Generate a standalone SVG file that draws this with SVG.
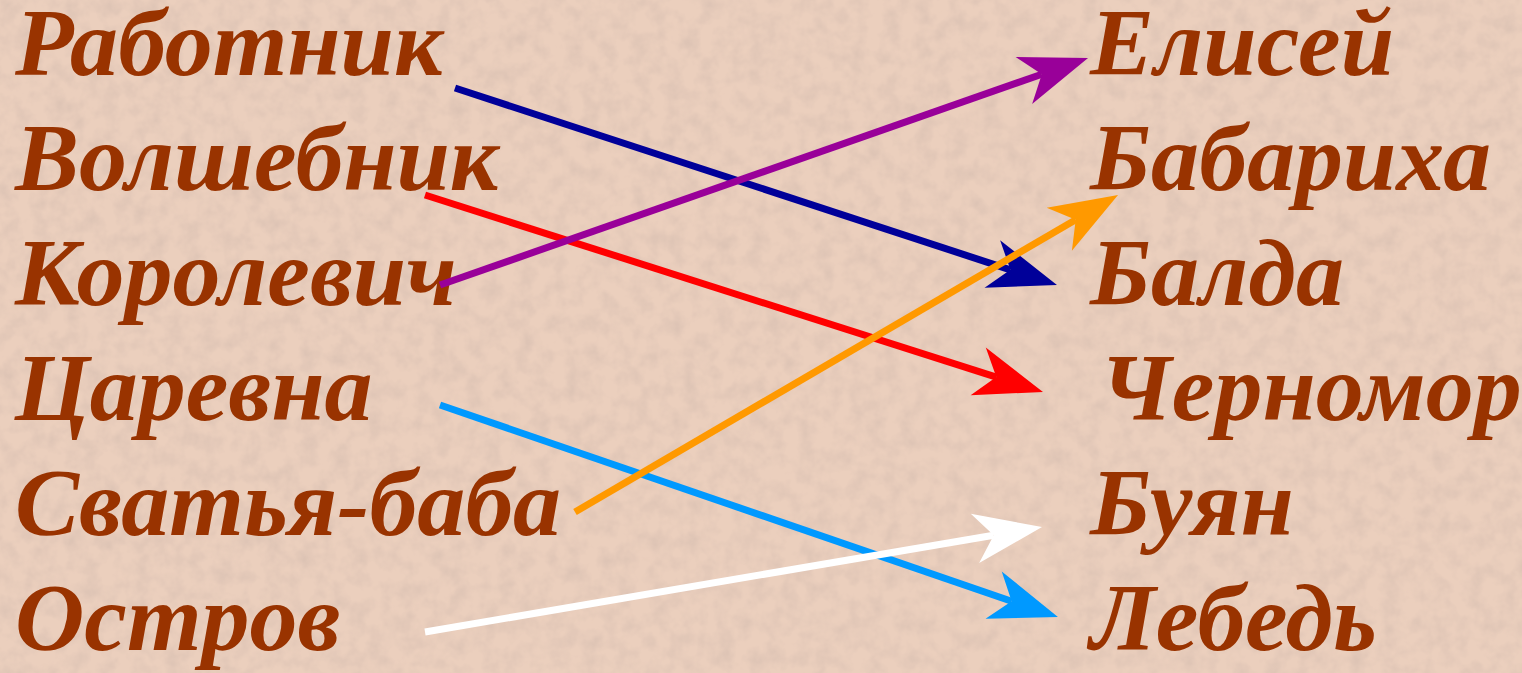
<svg xmlns="http://www.w3.org/2000/svg" width="1522" height="673" viewBox="0 0 1522 673">
<defs>
<style>
.t{font-family:"Liberation Serif","Times New Roman",serif;font-weight:bold;font-style:italic;font-size:96px;fill:#993300}
.c{stroke-width:7;fill:none;stroke-linecap:butt}
</style>
<filter id="tex" x="0" y="0" width="100%" height="100%">
<feTurbulence type="fractalNoise" baseFrequency="0.06" numOctaves="3" seed="4" result="n"/>
<feColorMatrix in="n" type="matrix" values="0 0 0 0 0.6  0 0 0 0 0.46  0 0 0 0 0.4  0 0 0 -1.6 1.0"/>
</filter>
<marker id="aNavy" markerUnits="userSpaceOnUse" orient="auto" markerWidth="72" markerHeight="60" refX="20" refY="30" viewBox="0 0 72 60"><path d="M69,30 L1,5 L20,30 L1,55 Z" fill="#000099"/></marker>
<marker id="aPurple" markerUnits="userSpaceOnUse" orient="auto" markerWidth="72" markerHeight="60" refX="20" refY="30" viewBox="0 0 72 60"><path d="M69,30 L1,5 L20,30 L1,55 Z" fill="#990099"/></marker>
<marker id="aRed" markerUnits="userSpaceOnUse" orient="auto" markerWidth="72" markerHeight="60" refX="20" refY="30" viewBox="0 0 72 60"><path d="M69,30 L1,5 L20,30 L1,55 Z" fill="#FF0000"/></marker>
<marker id="aOrange" markerUnits="userSpaceOnUse" orient="auto" markerWidth="72" markerHeight="60" refX="20" refY="30" viewBox="0 0 72 60"><path d="M69,30 L1,5 L20,30 L1,55 Z" fill="#FF9900"/></marker>
<marker id="aBlue" markerUnits="userSpaceOnUse" orient="auto" markerWidth="72" markerHeight="60" refX="20" refY="30" viewBox="0 0 72 60"><path d="M69,30 L1,5 L20,30 L1,55 Z" fill="#0099FF"/></marker>
<marker id="aWhite" markerUnits="userSpaceOnUse" orient="auto" markerWidth="72" markerHeight="60" refX="20" refY="30" viewBox="0 0 72 60"><path d="M69,30 L1,5 L20,30 L1,55 Z" fill="#FFFFFF"/></marker>
</defs>
<rect width="1522" height="673" fill="#EBCFBD"/>
<rect width="1522" height="673" filter="url(#tex)" opacity="0.5"/>
<g id="left">
<g id="n-rabotnik"><text class="t" x="15" y="75">Работник</text></g>
<g id="n-volshebnik"><text class="t" x="15" y="190">Волшебник</text></g>
<g id="n-korolevich"><text class="t" x="15" y="305">Королевич</text></g>
<g id="n-tsarevna"><text class="t" x="15" y="420">Царевна</text></g>
<g id="n-svatya"><text class="t" x="15" y="535">Сватья-баба</text></g>
<g id="n-ostrov"><text class="t" x="15" y="650">Остров</text></g>
</g>
<g id="right">
<g id="n-elisey"><text class="t" x="1090" y="75">Елисей</text></g>
<g id="n-babarikha"><text class="t" x="1090" y="190">Бабариха</text></g>
<g id="n-balda"><text class="t" x="1090" y="305">Балда</text></g>
<g id="n-chernomor"><text class="t" x="1100" y="420">Черномор</text></g>
<g id="n-buyan"><text class="t" x="1090" y="535">Буян</text></g>
<g id="n-lebed"><text class="t" x="1090" y="650">Лебедь</text></g>
</g>
<g id="connectors">
<line class="c" x1="455" y1="88" x2="1010.4" y2="269.8" stroke="#000099" marker-end="url(#aNavy)"/>
<line class="c" x1="425" y1="195" x2="996.3" y2="377.1" stroke="#FF0000" marker-end="url(#aRed)"/>
<line class="c" x1="440" y1="285" x2="1041.8" y2="74.2" stroke="#990099" marker-end="url(#aPurple)"/>
<line class="c" x1="440" y1="405" x2="1011.6" y2="601.2" stroke="#0099FF" marker-end="url(#aBlue)"/>
<line class="c" x1="575" y1="512" x2="1075.7" y2="219.7" stroke="#FF9900" marker-end="url(#aOrange)"/>
<line class="c" x1="425" y1="632" x2="993.7" y2="535.2" stroke="#FFFFFF" marker-end="url(#aWhite)"/>
</g>
</svg>
